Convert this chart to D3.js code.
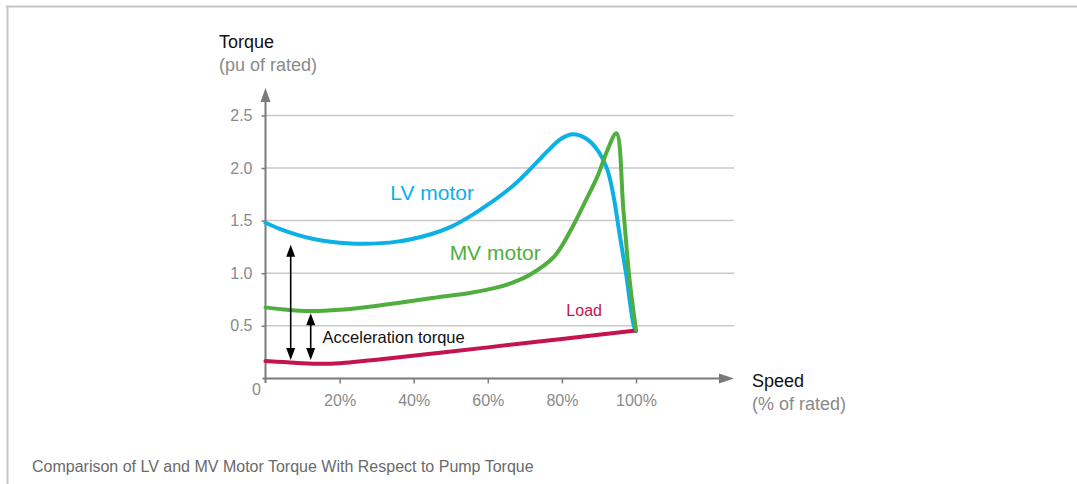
<!DOCTYPE html>
<html><head><meta charset="utf-8">
<script src="https://cdn.jsdelivr.net/npm/d3@7"></script>
<style>
html,body{margin:0;padding:0;background:#fff;}
svg{display:block;font-family:"Liberation Sans",Arial,Helvetica,sans-serif;}
</style></head>
<body>
<svg id="chart" width="1077" height="484"></svg>
<script>
// ---- data ----
const lvSpeed  = [0, 4, 8.6, 13, 17.6, 25.7, 35.6, 44.6, 50, 55.4, 60.8, 67.1, 73.4, 76.1, 79.9, 83, 86.5, 89.6, 92.3, 94.1, 95.4, 97.3, 99.4, 100];
const lvTorque = [1.48, 1.42, 1.365, 1.325, 1.30, 1.28, 1.30, 1.37, 1.44, 1.545, 1.67, 1.84, 2.06, 2.16, 2.28, 2.32, 2.28, 2.17, 1.98, 1.70, 1.41, 1.0, 0.5, 0.45];
const mvSpeed  = [0, 5, 12.2, 20, 28, 35.7, 45, 55.4, 62, 67, 71.6, 77.9, 82.4, 86, 89.6, 92.3, 94.7, 96.6, 98.2, 100];
const mvTorque = [0.675, 0.655, 0.64, 0.652, 0.682, 0.717, 0.765, 0.815, 0.86, 0.915, 0.99, 1.157, 1.41, 1.66, 1.92, 2.17, 2.33, 1.60, 0.96, 0.46];
const loadSpeed  = [0, 5, 10, 15, 20, 25, 30, 44.6, 60, 80, 100];
const loadTorque = [0.165, 0.155, 0.145, 0.14, 0.145, 0.16, 0.177, 0.235, 0.295, 0.375, 0.455];
const yTicks = [0.5, 1.0, 1.5, 2.0, 2.5];
const xTicks = [20, 40, 60, 80, 100];
const xTickLabels = ["20%", "40%", "60%", "80%", "100%"];
const arrowSpeed  = [6.8, 12.2];
const arrowTop    = [1.27, 0.62];
const arrowBottom = [0.175, 0.175];
const labelText  = ["LV motor", "MV motor", "Load", "Acceleration torque"];
const labelSpeed = [33.7, 49.7, 81.2, 15.4];
const labelTorque = [1.695, 1.125, 0.59, 0.335];

// ---- layout ----
const svg = d3.select("#chart");
const x = d3.scaleLinear().domain([0, 100]).range([265.5, 636]);
const y = d3.scaleLinear().domain([0, 2.5]).range([378.4, 115.4]);
const gridRight = 734;
const cBlue = "#0ab0e6", cGreen = "#4fae3d", cRed = "#c4134e";
const axisCol = "#7a7a7a", gridCol = "#c9c9c9", tickTxt = "#8a8a8a";

// frame
svg.append("line").attr("x1", 6).attr("x2", 1077).attr("y1", 6.5).attr("y2", 6.5)
  .attr("stroke", "#c3c6c9").attr("stroke-width", 2);
svg.append("line").attr("x1", 7.5).attr("x2", 7.5).attr("y1", 6).attr("y2", 484)
  .attr("stroke", "#c3c6c9").attr("stroke-width", 2);

// gridlines
svg.append("g").selectAll("line").data(yTicks).join("line")
  .attr("x1", x(0)).attr("x2", gridRight)
  .attr("y1", d => y(d)).attr("y2", d => y(d))
  .attr("stroke", gridCol).attr("stroke-width", 1.5);

// y axis via d3.axisLeft
const yAxis = svg.append("g").attr("transform", `translate(${x(0)},0)`)
  .call(d3.axisLeft(y).tickValues(yTicks).tickFormat(d3.format(".1f")).tickSize(4).tickPadding(9));
yAxis.select(".domain").remove();
yAxis.selectAll(".tick line").attr("stroke", axisCol).attr("stroke-width", 1.5);
yAxis.selectAll(".tick text").attr("fill", tickTxt).style("font-size", "16px")
  .style("font-family", "'Liberation Sans',Arial,sans-serif");

// x axis via d3.axisBottom
const xAxis = svg.append("g").attr("transform", `translate(0,${y(0)})`)
  .call(d3.axisBottom(x).tickValues(xTicks).tickFormat((d, i) => xTickLabels[i]).tickSize(5).tickPadding(11));
xAxis.select(".domain").remove();
xAxis.selectAll(".tick line").attr("stroke", axisCol).attr("stroke-width", 1.5);
xAxis.selectAll(".tick text").attr("fill", tickTxt).style("font-size", "16px")
  .style("font-family", "'Liberation Sans',Arial,sans-serif");

// axis lines with arrowheads
svg.append("line").attr("x1", x(0)).attr("x2", x(0)).attr("y1", y(0) + 4.5).attr("y2", 100)
  .attr("stroke", axisCol).attr("stroke-width", 2);
svg.append("path").attr("d", `M${x(0)},88 L${x(0) - 5},102 L${x(0) + 5},102 Z`).attr("fill", axisCol);
svg.append("line").attr("x1", x(0) - 3).attr("x2", 722).attr("y1", y(0)).attr("y2", y(0))
  .attr("stroke", axisCol).attr("stroke-width", 2);
svg.append("path").attr("d", `M734,${y(0)} L719,${y(0) - 5} L719,${y(0) + 5} Z`).attr("fill", axisCol);

// "0" origin label
svg.append("text").attr("x", x(0) - 9).attr("y", y(0) + 17).attr("text-anchor", "middle")
  .attr("fill", tickTxt).style("font-size", "16px").text("0");

// axis titles
svg.append("text").attr("x", 219).attr("y", 48).attr("fill", "#111").style("font-size", "18px").text("Torque");
svg.append("text").attr("x", 219).attr("y", 71).attr("fill", tickTxt).style("font-size", "18px").text("(pu of rated)");
svg.append("text").attr("x", 752).attr("y", 387).attr("fill", "#111").style("font-size", "18px").text("Speed");
svg.append("text").attr("x", 752).attr("y", 410).attr("fill", tickTxt).style("font-size", "18px").text("(% of rated)");

// curves
const line = d3.line().x(d => x(d[0])).y(d => y(d[1])).curve(d3.curveCatmullRom.alpha(0.5));
const series = [
  {s: lvSpeed, t: lvTorque, c: cBlue},
  {s: loadSpeed, t: loadTorque, c: cRed},
  {s: mvSpeed, t: mvTorque, c: cGreen}
];
series.forEach(sr => {
  svg.append("path").datum(sr.s.map((v, i) => [v, sr.t[i]]))
    .attr("d", line).attr("fill", "none").attr("stroke", sr.c)
    .attr("stroke-width", 4).attr("stroke-linejoin", "round").attr("stroke-linecap", "round");
});

// acceleration torque arrows
arrowSpeed.forEach((s, i) => {
  const ax = x(s), yt = y(arrowTop[i]), yb = y(arrowBottom[i]);
  svg.append("line").attr("x1", ax).attr("x2", ax).attr("y1", yt + 10).attr("y2", yb - 10)
    .attr("stroke", "#000").attr("stroke-width", 1.6);
  svg.append("path").attr("d", `M${ax},${yt} L${ax - 4.5},${yt + 12} L${ax + 4.5},${yt + 12} Z`).attr("fill", "#000");
  svg.append("path").attr("d", `M${ax},${yb} L${ax - 4.5},${yb - 12} L${ax + 4.5},${yb - 12} Z`).attr("fill", "#000");
});

// labels
const labelColors = [cBlue, cGreen, cRed, "#111"];
const labelSizes = ["21px", "21px", "16px", "16.5px"];
labelText.forEach((t, i) => {
  svg.append("text").attr("x", x(labelSpeed[i])).attr("y", y(labelTorque[i]))
    .attr("fill", labelColors[i]).style("font-size", labelSizes[i]).text(t);
});

// caption
svg.append("text").attr("x", 32).attr("y", 472).attr("fill", "#6a6a6a").style("font-size", "16px")
  .text("Comparison of LV and MV Motor Torque With Respect to Pump Torque");
</script>
</body></html>
